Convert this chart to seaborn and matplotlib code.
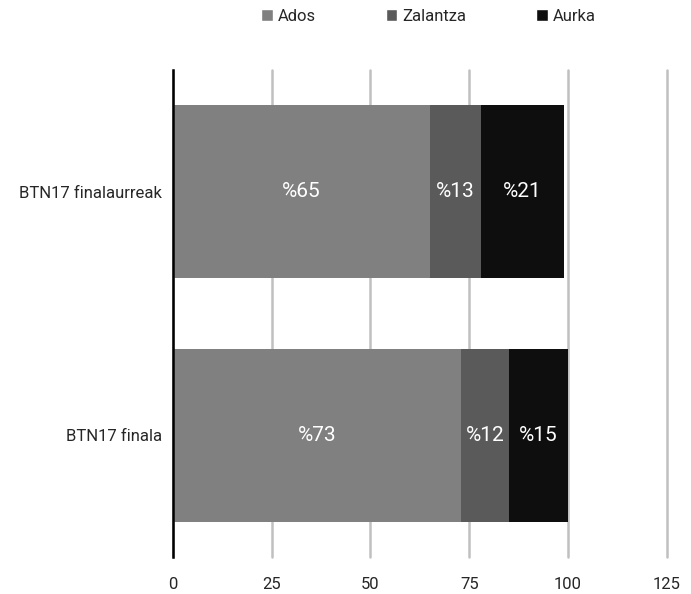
import numpy as np
import pandas as pd
import matplotlib.pyplot as plt
import seaborn as sns
from matplotlib.patches import Patch

categories = ["BTN17 finalaurreak", "BTN17 finala"]
series = ["Ados", "Zalantza", "Aurka"]
ados = [65, 73]
zalantza = [13, 12]
aurka = [21, 15]
colors = ["#808080", "#5a5a5a", "#0e0e0e"]

sns.set_style("white")
plt.rcParams["font.family"] = ["Liberation Sans Narrow", "Roboto", "DejaVu Sans"]

df = pd.DataFrame({"cat": categories, "Ados": ados, "Zalantza": zalantza, "Aurka": aurka})
df["c2"] = df["Ados"] + df["Zalantza"]
df["c3"] = df["c2"] + df["Aurka"]

fig = plt.figure(figsize=(6.91, 5.94), dpi=100)
ax = fig.add_axes([0.250, 0.062, 0.715, 0.820])

# stacked bars: draw cumulative totals from largest down
for col, c in zip(["c3", "c2", "Ados"], colors[::-1]):
    sns.barplot(data=df, x=col, y="cat", color=c, width=0.71, orient="h",
                saturation=1, linewidth=0, ax=ax, zorder=2)

# segment labels
for i, row in df.iterrows():
    left = 0
    for s in series:
        v = row[s]
        ax.text(left + v / 2, i, f"%{v}", ha="center", va="center",
                color="white", fontsize=15, zorder=3)
        left += v

ax.set_xlim(0, 125)
ax.set_ylim(1.5, -0.5)
ax.set_xticks([0, 25, 50, 75, 100, 125])
ax.set_xlabel("")
ax.set_ylabel("")
ax.grid(axis="x", color="#c0c0c0", linewidth=1.8)
for gl in ax.get_xgridlines():
    gl.set_clip_on(False)
ax.set_axisbelow(True)
for side in ["top", "right", "bottom"]:
    ax.spines[side].set_visible(False)
ax.spines["left"].set_color("black")
ax.spines["left"].set_linewidth(1.8)
ax.tick_params(axis="both", length=0, labelsize=12)
ax.tick_params(axis="x", pad=14)
ax.tick_params(axis="y", pad=8)

handles = [Patch(facecolor=c, label=s) for s, c in zip(series, colors)]
fig.legend(handles=handles, loc="upper center", bbox_to_anchor=(0.62, 1.01),
           ncol=3, frameon=False, fontsize=12, handlelength=0.7,
           handleheight=0.7, handletextpad=0.3, columnspacing=4.2)

fig.savefig("out.png", dpi=100)
